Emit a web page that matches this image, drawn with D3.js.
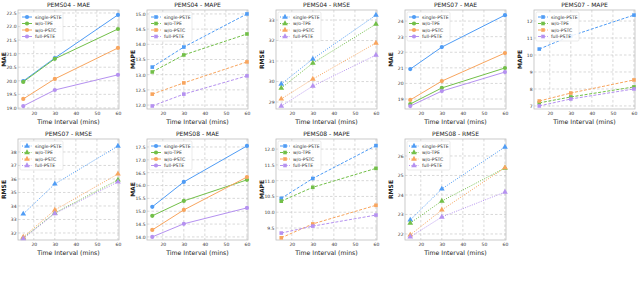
<!DOCTYPE html>
<html>
<head>
<meta charset="utf-8">
<script src="https://cdn.jsdelivr.net/npm/d3@7"></script>
<style>
body { margin: 0; background: #fff; }
svg { display: block; font-family: "DejaVu Sans", sans-serif; }
</style>
</head>
<body>
<svg width="640" height="288"></svg>
<script>
// time intervals (mins) and model variants
const intervals = [15, 30, 60]
const xTicks = [20, 30, 40, 50, 60]
const variants = ['single-PSTE', 'w/o-TPE', 'w/o-PSTC', 'full-PSTE']
const colors = ['#4f9cf5', '#72bf48', '#f8a55e', '#b591f0']

// one row per variant, values at 15 / 30 / 60 mins
const pems04MAE  = [[19.99, 20.84, 22.43], [19.96, 20.81, 21.91], [19.33, 20.07, 21.21], [19.07, 19.66, 20.22]]
const pems04MAPE = [[13.25, 13.91, 15.00], [13.09, 13.65, 14.34], [12.36, 12.73, 13.42], [11.97, 12.36, 12.96]]
const pems04RMSE = [[29.88, 31.10, 33.24], [29.68, 30.90, 32.80], [29.15, 30.12, 31.88], [28.80, 29.78, 31.29]]
const pems07MAE  = [[20.92, 22.33, 24.38], [18.68, 19.71, 20.99], [18.94, 20.15, 21.95], [18.55, 19.51, 20.73]]
const pems07MAPE = [[10.35, 11.12, 12.35], [7.18, 7.53, 8.12], [7.29, 7.76, 8.53], [7.00, 7.41, 8.00]]
const pems07RMSE = [[33.41, 35.63, 38.44], [31.63, 33.48, 35.93], [31.70, 33.70, 36.37], [31.58, 33.44, 35.78]]
const pems08MAE  = [[15.17, 16.14, 17.54], [14.82, 15.40, 16.22], [14.27, 15.05, 16.33], [14.00, 14.51, 15.13]]
const pems08MAPE = [[10.44, 11.07, 12.11], [10.35, 10.79, 11.39], [9.19, 9.63, 10.22], [9.34, 9.56, 9.91]]
const pems08RMSE = [[22.72, 24.31, 26.46], [22.56, 23.69, 25.38], [21.95, 23.23, 25.40], [21.85, 22.87, 24.15]]

// y tick labels
const ticks04MAE  = [19.0, 19.5, 20.0, 20.5, 21.0, 21.5, 22.0, 22.5]
const ticks04MAPE = [12.0, 12.5, 13.0, 13.5, 14.0, 14.5, 15.0]
const ticks04RMSE = [29, 30, 31, 32, 33]
const ticks07MAE  = [19, 20, 21, 22, 23, 24]
const ticks07MAPE = [7, 8, 9, 10, 11, 12]
const ticks07RMSE = [32, 33, 34, 35, 36, 37, 38]
const ticks08MAE  = [14.0, 14.5, 15.0, 15.5, 16.0, 16.5, 17.0, 17.5]
const ticks08MAPE = [9.5, 10.0, 10.5, 11.0, 11.5, 12.0]
const ticks08RMSE = [22, 23, 24, 25, 26]

const styleOf = {
  MAE:  { marker: d3.symbolCircle, size: 14, dash: null },
  MAPE: { marker: d3.symbolSquare, size: 13, dash: '3,1.6' },
  RMSE: { marker: d3.symbolTriangle, size: 14, dash: '1,1.4' }
}

const panels = [
  { title: 'PEMS04 - MAE',  metric: 'MAE',  values: pems04MAE,  yDomain: [18.96, 22.61], yTicks: ticks04MAE,  fmt: '.1f' },
  { title: 'PEMS04 - MAPE', metric: 'MAPE', values: pems04MAPE, yDomain: [11.87, 15.13], yTicks: ticks04MAPE, fmt: '.1f' },
  { title: 'PEMS04 - RMSE', metric: 'RMSE', values: pems04RMSE, yDomain: [28.66, 33.49], yTicks: ticks04RMSE, fmt: 'd' },
  { title: 'PEMS07 - MAE',  metric: 'MAE',  values: pems07MAE,  yDomain: [18.36, 24.71], yTicks: ticks07MAE,  fmt: 'd' },
  { title: 'PEMS07 - MAPE', metric: 'MAPE', values: pems07MAPE, yDomain: [6.82, 12.65],  yTicks: ticks07MAPE, fmt: 'd' },
  { title: 'PEMS07 - RMSE', metric: 'RMSE', values: pems07RMSE, yDomain: [31.48, 38.96], yTicks: ticks07RMSE, fmt: 'd' },
  { title: 'PEMS08 - MAE',  metric: 'MAE',  values: pems08MAE,  yDomain: [13.88, 17.81], yTicks: ticks08MAE,  fmt: '.1f' },
  { title: 'PEMS08 - MAPE', metric: 'MAPE', values: pems08MAPE, yDomain: [9.12, 12.32],  yTicks: ticks08MAPE, fmt: '.1f' },
  { title: 'PEMS08 - RMSE', metric: 'RMSE', values: pems08RMSE, yDomain: [21.69, 26.87], yTicks: ticks08RMSE, fmt: 'd' }
]

const colLeft = [18, 147, 276, 405, 534]
const rowBox = [[10, 109], [139, 240]]
const plotW = 101

const svg = d3.select('svg')

panels.forEach((p, i) => {
  const left = colLeft[i % 5]
  const [top, bottom] = rowBox[Math.floor(i / 5)]
  const st = styleOf[p.metric]

  const x = d3.scaleLinear().domain([12.5, 60.5]).range([left, left + plotW])
  const y = d3.scaleLinear().domain(p.yDomain).range([bottom, top])

  const g = svg.append('g')

  // grid
  g.append('g').selectAll('line.v').data(xTicks).enter().append('line')
    .attr('x1', d => x(d)).attr('x2', d => x(d)).attr('y1', top).attr('y2', bottom)
    .attr('stroke', '#c8c8c8').attr('stroke-width', 0.7).attr('stroke-dasharray', '2.5,2')
  g.append('g').selectAll('line.h').data(p.yTicks).enter().append('line')
    .attr('x1', left).attr('x2', left + plotW).attr('y1', d => y(d)).attr('y2', d => y(d))
    .attr('stroke', '#c8c8c8').attr('stroke-width', 0.7).attr('stroke-dasharray', '2.5,2')

  // frame
  g.append('rect').attr('x', left).attr('y', top).attr('width', plotW).attr('height', bottom - top)
    .attr('fill', 'none').attr('stroke', '#bdbdbd').attr('stroke-width', 0.8)

  // axes
  const xa = g.append('g').attr('transform', `translate(0,${bottom})`)
    .call(d3.axisBottom(x).tickValues(xTicks).tickSize(0).tickPadding(3))
  const ya = g.append('g').attr('transform', `translate(${left},0)`)
    .call(d3.axisLeft(y).tickValues(p.yTicks).tickFormat(d3.format(p.fmt)).tickSize(0).tickPadding(1.5))
  ;[xa, ya].forEach(a => {
    a.select('.domain').remove()
    a.selectAll('text').attr('font-size', 4.5).attr('fill', '#333').attr('font-family', '"DejaVu Sans", sans-serif')
  })

  // lines + markers
  const line = d3.line().x((d, j) => x(intervals[j])).y(d => y(d))
  p.values.forEach((vals, k) => {
    g.append('path').attr('d', line(vals)).attr('fill', 'none')
      .attr('stroke', colors[k]).attr('stroke-width', 1)
      .attr('stroke-dasharray', st.dash)
    g.selectAll(null).data(vals).enter().append('path')
      .attr('d', d3.symbol().type(st.marker).size(st.size))
      .attr('transform', (d, j) => `translate(${x(intervals[j])},${y(d)})`)
      .attr('fill', colors[k])
  })

  // legend
  const lg = g.append('g').attr('transform', `translate(${left + 2},${top + 2})`)
  lg.append('rect').attr('width', 43).attr('height', 29).attr('rx', 1.5)
    .attr('fill', '#fff').attr('fill-opacity', 0.85).attr('stroke', '#ddd').attr('stroke-width', 0.6)
  variants.forEach((name, k) => {
    const yy = 5 + k * 6.5
    lg.append('line').attr('x1', 2).attr('x2', 12).attr('y1', yy).attr('y2', yy)
      .attr('stroke', colors[k]).attr('stroke-width', 1).attr('stroke-dasharray', st.dash)
    lg.append('path').attr('d', d3.symbol().type(st.marker).size(st.size))
      .attr('transform', `translate(7,${yy})`).attr('fill', colors[k])
    lg.append('text').attr('x', 15).attr('y', yy + 1.6).attr('font-size', 4.6).attr('fill', '#333').text(name)
  })

  // titles
  g.append('text').attr('x', left + plotW / 2).attr('y', top - 3.5).attr('text-anchor', 'middle')
    .attr('font-size', 6).attr('fill', '#222').text(p.title)
  g.append('text').attr('x', left + plotW / 2).attr('y', bottom + 15).attr('text-anchor', 'middle')
    .attr('font-size', 6.2).attr('fill', '#222').text('Time Interval (mins)')
  g.append('text').attr('transform', `translate(${left - 12},${(top + bottom) / 2}) rotate(-90)`)
    .attr('text-anchor', 'middle').attr('font-size', 6).attr('font-weight', 'bold').attr('fill', '#222')
    .text(p.metric)
})
</script>
</body>
</html>
